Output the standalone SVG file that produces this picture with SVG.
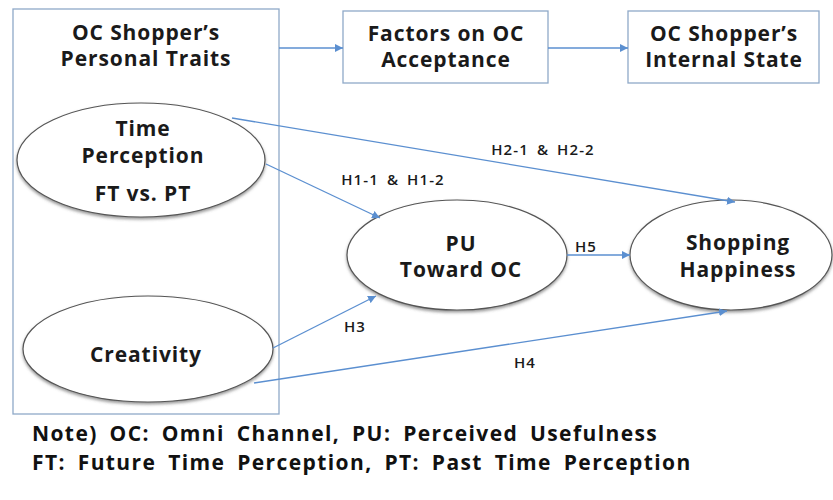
<svg xmlns="http://www.w3.org/2000/svg" width="833" height="500" viewBox="0 0 833 500">
<defs>
<marker id="arr" viewBox="0 0 10 10" refX="10" refY="5" markerWidth="8" markerHeight="8" orient="auto" markerUnits="userSpaceOnUse">
<path d="M0,0 L10,5 L0,10 z" fill="#5b8fd0"/>
</marker>
<filter id="sh" x="-10%" y="-10%" width="120%" height="130%">
<feDropShadow dx="0" dy="2" stdDeviation="1.5" flood-color="#555" flood-opacity="0.6"/>
</filter>
<style>
.box{fill:#fff;stroke:#8fa9c8;stroke-width:1.3}
.ell{fill:#fff;stroke:#555;stroke-width:1.2;filter:url(#sh)}
.t{font-family:"Open Sans","Noto Sans",sans-serif;font-weight:700;font-size:21px;letter-spacing:0.9px;fill:#1a1a1a;text-anchor:middle}
.lab{font-family:"Open Sans","Noto Sans",sans-serif;font-weight:600;font-size:15px;letter-spacing:1.1px;word-spacing:3px;fill:#1a1a1a;text-anchor:middle}
.note{font-family:"Open Sans","Noto Sans",sans-serif;font-weight:700;font-size:21px;letter-spacing:1.4px;word-spacing:5px;fill:#111}
.c{fill:none;stroke:#5b8fd0;stroke-width:1.3;marker-end:url(#arr)}
</style>
</defs>
<rect width="833" height="500" fill="#fff"/>
<g id="traits">
<rect class="box" x="13" y="9" width="266" height="405"/>
<text class="t" x="146" y="40">OC Shopper’s</text>
<text class="t" x="146" y="66">Personal Traits</text>
</g>
<g id="factors">
<rect class="box" x="343" y="11" width="205" height="72"/>
<text class="t" x="446" y="41">Factors on OC</text>
<text class="t" x="446" y="67">Acceptance</text>
</g>
<g id="internal">
<rect class="box" x="628" y="11" width="191" height="72"/>
<text class="t" x="724" y="41">OC Shopper’s</text>
<text class="t" x="724" y="67">Internal State</text>
</g>
<g id="time">
<ellipse class="ell" cx="141" cy="160" rx="124" ry="57"/>
<text class="t" x="143" y="136">Time</text>
<text class="t" x="143" y="163">Perception</text>
<text class="t" x="143" y="201">FT vs. PT</text>
</g>
<g id="creativity">
<ellipse class="ell" cx="148" cy="349" rx="125" ry="53"/>
<text class="t" x="146" y="362">Creativity</text>
</g>
<g id="pu">
<ellipse class="ell" cx="457" cy="255" rx="110" ry="55"/>
<text class="t" x="461" y="251">PU</text>
<text class="t" x="461" y="277">Toward OC</text>
</g>
<g id="happiness">
<ellipse class="ell" cx="731" cy="255" rx="101" ry="55"/>
<text class="t" x="738" y="250">Shopping</text>
<text class="t" x="738" y="277">Happiness</text>
</g>
<g id="connectors">
<line class="c" x1="279" y1="48" x2="343" y2="48"/>
<line class="c" x1="548" y1="48" x2="628" y2="48"/>
<line class="c" x1="232" y1="118" x2="735" y2="202"/>
<line class="c" x1="266" y1="164" x2="380" y2="218"/>
<line class="c" x1="273" y1="348" x2="376" y2="296"/>
<line class="c" x1="254" y1="383" x2="727" y2="311"/>
<line class="c" x1="567" y1="255" x2="630" y2="255"/>
<text class="lab" x="543" y="155">H2-1 &amp; H2-2</text>
<text class="lab" x="393" y="185">H1-1 &amp; H1-2</text>
<text class="lab" x="355" y="332">H3</text>
<text class="lab" x="525" y="368">H4</text>
<text class="lab" x="586" y="252">H5</text>
</g>
<g id="note">
<text class="note" x="32" y="441">Note) OC: Omni Channel, PU: Perceived Usefulness</text>
<text class="note" x="32" y="470">FT: Future Time Perception, PT: Past Time Perception</text>
</g>
</svg>
